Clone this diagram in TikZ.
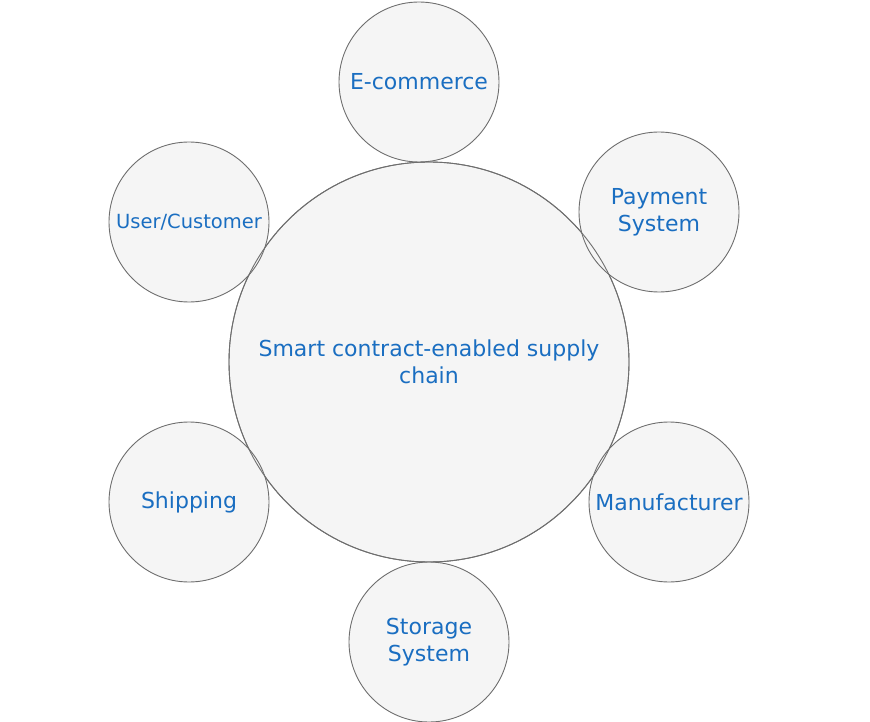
\documentclass[tikz,border=0pt]{standalone}
\usepackage{fontspec}
\setmainfont{DejaVu Sans}
\usepackage{xcolor}
\usepackage{tikz}
\usetikzlibrary{positioning}

\definecolor{ringfill}{HTML}{F5F5F5}
\definecolor{ringline}{HTML}{6E6E6E}
\definecolor{labelblue}{HTML}{1A6EC1}

\begin{document}
\begin{tikzpicture}[
  x=1pt, y=-1pt,
  hub/.style={circle, draw=ringline, line width=0.9pt, fill=ringfill, minimum size=400pt, inner sep=0pt, align=center, text=labelblue, font=\fontsize{22}{27}\selectfont},
  party/.style={circle, draw=ringline, line width=0.9pt, fill=ringfill, minimum size=160pt, inner sep=0pt, align=center, text=labelblue, font=\fontsize{22}{27}\selectfont}
]
  \useasboundingbox (0,0) rectangle (870,722);

  \node[hub] (chain) at (429,362) {Smart contract-enabled supply\\chain};

  \node[party] (shop)  at (419,82)  {E-commerce};
  \node[party] (pay)   at (659,212) {Payment\\System};
  \node[party, font=\fontsize{19.5}{24}\selectfont] (user) at (189,222) {User/Customer};
  \node[party] (ship)  at (189,502) {Shipping};
  \node[party] (maker) at (669,502) {Manufacturer};
  \node[party] (store) at (429,642) {Storage\\System};

  % outline of the hub shows through where the rings overlap
  \draw[ringline, line width=0.9pt] (chain.center) circle (200);
\end{tikzpicture}
\end{document}
